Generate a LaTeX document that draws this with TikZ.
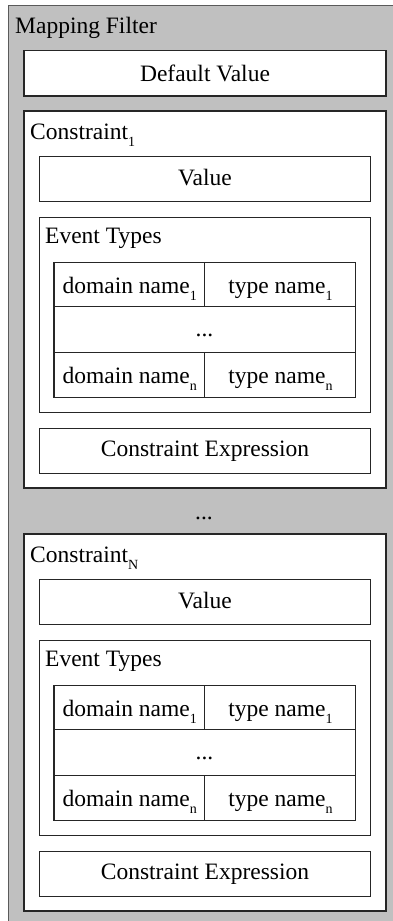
\documentclass[tikz,border=0pt]{standalone}
\usepackage{fontspec}
\setmainfont{Liberation Serif}
\definecolor{panelgray}{HTML}{C0C0C0}
\definecolor{edgegray}{HTML}{5A5A5A}
% small lowered index, set in the text font
\newcommand\lowsub[1]{\raisebox{-7pt}{\fontsize{14}{14}\selectfont #1}}

\begin{document}
\begin{tikzpicture}[x=1pt,y=-1pt,
  wbox/.style={draw=black!85, fill=white, line width=1.2pt, rectangle, inner sep=0pt},
  lbl/.style={anchor=base, inner sep=0pt, font=\fontsize{23.5}{28}\selectfont},
  lbll/.style={anchor=base west, inner sep=0pt, font=\fontsize{23.5}{28}\selectfont}]
\useasboundingbox (0,0) rectangle (393,921);

% outer panel, running off the right and bottom edges
\fill[panelgray] (8.5,5.5) rectangle (393,921);
\draw[edgegray, line width=1.6pt] (8.5,921) -- (8.5,5.5) -- (393,5.5);
\node[lbll] (title) at (15,33) {Mapping Filter};

% default value
\node[wbox, minimum width=362pt, minimum height=45.3pt] (default) at (205,73.3) {};
\node[lbl] (defaulttext) at (205,81) {Default Value};

% the two constraint blocks
\foreach \k/\dy/\idx in {a/0/1, b/423/N} {
  \node[wbox, minimum width=362pt, minimum height=377pt] (con\k) at (205,{299.5+\dy}) {};
  \node[lbll] (con\k title) at (30,{139+\dy}) {Constraint\lowsub{\idx}};

  \node[wbox, minimum width=331.4pt, minimum height=45pt] (val\k) at (205,{179.2+\dy}) {};
  \node[lbl] (val\k text) at (205,{185+\dy}) {Value};

  \node[wbox, minimum width=331.4pt, minimum height=195.4pt] (ev\k) at (205,{315+\dy}) {};
  \node[lbll] (ev\k title) at (45,{243.3+\dy}) {Event Types};

  \node[wbox, minimum width=150.7pt, minimum height=44pt] (dom\k one) at (129.35,{284.7+\dy}) {};
  \node[wbox, minimum width=151pt, minimum height=44pt] (typ\k one) at (280.2,{284.7+\dy}) {};
  \node[wbox, minimum width=301.7pt, minimum height=45.6pt] (mid\k) at (204.85,{329.5+\dy}) {};
  \node[wbox, minimum width=150.7pt, minimum height=45pt] (dom\k n) at (129.35,{374.8+\dy}) {};
  \node[wbox, minimum width=151pt, minimum height=45pt] (typ\k n) at (280.2,{374.8+\dy}) {};

  \node[lbl] (dom\k onetext) at (129.7,{293+\dy}) {domain name\lowsub{1}};
  \node[lbl] (typ\k onetext) at (280.5,{293+\dy}) {type name\lowsub{1}};
  \node[lbl] (mid\k text) at (204.5,{336.7+\dy}) {...};
  \node[lbl] (dom\k ntext) at (129.7,{383.3+\dy}) {domain name\lowsub{n}};
  \node[lbl] (typ\k ntext) at (280.5,{383.3+\dy}) {type name\lowsub{n}};

  \node[wbox, minimum width=331.4pt, minimum height=45pt] (expr\k) at (205,{450.8+\dy}) {};
  \node[lbl] (expr\k text) at (205,{456.7+\dy}) {Constraint Expression};
}

% ellipsis between the constraint blocks
\node[lbl] (gapdots) at (204,519.3) {...};
\end{tikzpicture}
\end{document}
